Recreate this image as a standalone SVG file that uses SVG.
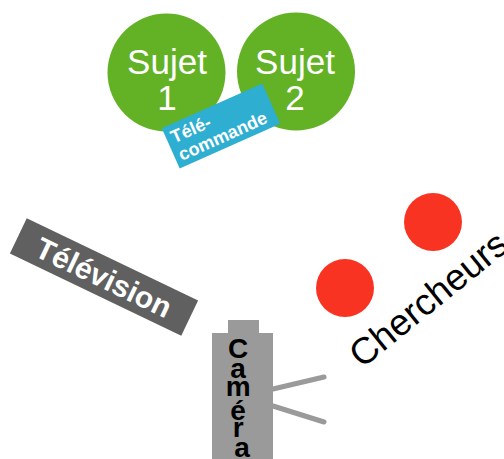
<svg xmlns="http://www.w3.org/2000/svg" width="504" height="459" viewBox="0 0 504 459">
  <style>
    .subject { fill: #63b225; }
    .subject-label { font-family: "Liberation Sans", Arial, sans-serif; font-size: 35px; fill: #ffffff; text-anchor: middle; }
    .bold-white { font-family: "Liberation Sans", Arial, sans-serif; font-weight: bold; fill: #ffffff; }
    .researcher { fill: #f93322; }
    .camera-body { fill: #9a9a9a; }
    .camera-letter { font-family: "Liberation Sans", Arial, sans-serif; font-weight: bold; font-size: 28px; fill: #000000; text-anchor: middle; }
    .cable { stroke: #9a9a9a; stroke-width: 5; stroke-linecap: round; fill: none; }
  </style>
  <rect width="504" height="459" fill="#ffffff"/>

  <!-- Subjects -->
  <g id="sujet1">
    <circle class="subject" cx="166.5" cy="72.5" r="59"/>
    <text class="subject-label" x="167" y="74">Sujet</text>
    <text class="subject-label" x="167" y="110">1</text>
  </g>
  <g id="sujet2">
    <circle class="subject" cx="296" cy="71.5" r="59"/>
    <text class="subject-label" x="295" y="74">Sujet</text>
    <text class="subject-label" x="295" y="110">2</text>
  </g>

  <!-- Remote control -->
  <g id="telecommande" transform="translate(221 126) rotate(-24)">
    <rect x="-55" y="-22" width="110" height="44" fill="#2eaed0"/>
    <text class="bold-white" font-size="18" x="-50" y="-3">Télé-</text>
    <text class="bold-white" font-size="18" x="-50" y="16">commande</text>
  </g>

  <!-- Television -->
  <g id="television" transform="translate(104 277) rotate(25.6)">
    <rect x="-95" y="-19.5" width="190" height="39" fill="#606060"/>
    <text class="bold-white" font-size="30" x="0" y="11" text-anchor="middle">Télévision</text>
  </g>

  <!-- Researchers -->
  <g id="chercheurs">
    <circle class="researcher" cx="345" cy="288" r="29"/>
    <circle class="researcher" cx="433" cy="222" r="29"/>
    <text transform="translate(362 369) rotate(-39)" font-family="Liberation Sans, Arial, sans-serif" font-size="37" fill="#000000">Chercheurs</text>
  </g>

  <!-- Cables -->
  <g id="connectors">
    <line class="cable" x1="273" y1="389" x2="324" y2="377"/>
    <line class="cable" x1="273" y1="406" x2="324" y2="422"/>
  </g>

  <!-- Camera -->
  <g id="camera">
    <rect class="camera-body" x="228" y="320" width="31" height="14"/>
    <rect class="camera-body" x="212" y="333" width="61" height="130"/>
    <text class="camera-letter">
      <tspan x="242" y="358">C</tspan>
      <tspan x="242" y="378">a</tspan>
      <tspan x="242" y="396">m</tspan>
      <tspan x="242" y="420">é</tspan>
      <tspan x="242" y="437">r</tspan>
      <tspan x="242" y="457">a</tspan>
    </text>
  </g>
</svg>
